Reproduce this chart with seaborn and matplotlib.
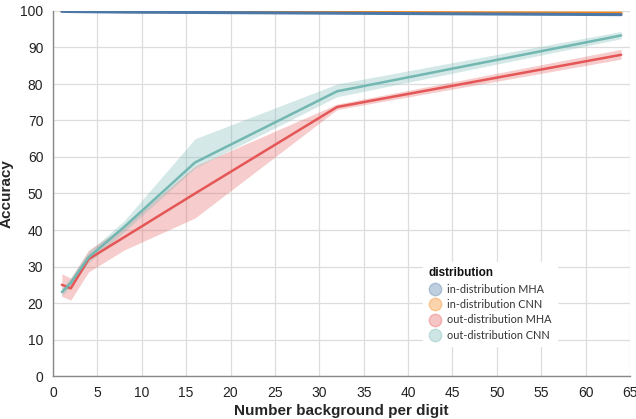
import numpy as np
import pandas as pd
import matplotlib
matplotlib.use("Agg")
import matplotlib.pyplot as plt
import seaborn as sns
from matplotlib.lines import Line2D

# ---- data ----
x_vals = [1, 2, 4, 8, 16, 32, 64]
series_names = ["in-distribution MHA", "in-distribution CNN",
                "out-distribution MHA", "out-distribution CNN"]

in_mha_mean = [99.9, 99.85, 99.8, 99.7, 99.6, 99.4, 99.0]
in_mha_low = [99.8, 99.75, 99.7, 99.6, 99.5, 99.3, 98.9]
in_mha_high = [100.0, 99.95, 99.9, 99.8, 99.7, 99.5, 99.1]

in_cnn_mean = [100.0, 99.95, 99.9, 99.85, 99.8, 99.6, 99.4]
in_cnn_low = [99.95, 99.9, 99.85, 99.8, 99.75, 99.5, 99.3]
in_cnn_high = [100.0, 100.0, 99.95, 99.9, 99.85, 99.7, 99.5]

out_mha_mean = [25.0, 24.0, 32.0, 38.0, 50.0, 73.7, 88.0]
out_mha_low = [21.8, 20.8, 28.5, 34.5, 43.3, 73.0, 86.8]
out_mha_high = [28.0, 26.8, 34.5, 41.0, 57.5, 74.5, 89.5]

out_cnn_mean = [23.0, 25.5, 32.5, 40.8, 58.5, 78.0, 93.3]
out_cnn_low = [22.0, 24.5, 31.0, 39.5, 57.0, 76.5, 92.4]
out_cnn_high = [24.0, 27.0, 34.0, 42.5, 65.0, 80.0, 94.4]

x_ticks = list(range(0, 66, 5))
y_ticks = list(range(0, 101, 10))

colors = ["#4c78a8", "#f58518", "#e45756", "#72b7b2"]

means = [in_mha_mean, in_cnn_mean, out_mha_mean, out_cnn_mean]
lows = [in_mha_low, in_cnn_low, out_mha_low, out_cnn_low]
highs = [in_mha_high, in_cnn_high, out_mha_high, out_cnn_high]

rows = []
for name, m, lo, hi in zip(series_names, means, lows, highs):
    for xv, a, b, c in zip(x_vals, m, lo, hi):
        rows.append({"x": xv, "mean": a, "low": b, "high": c, "distribution": name})
df = pd.DataFrame(rows)

# ---- plot ----
sns.set_style("white")
plt.rcParams["font.family"] = ["Liberation Sans", "DejaVu Sans"]

fig = plt.figure(figsize=(6.36, 4.19), dpi=100)
ax = fig.add_axes([53 / 636, 43 / 419, 577 / 636, 365 / 419])

for name, col in zip(series_names, colors):
    d = df[df["distribution"] == name]
    ax.fill_between(d["x"], d["low"], d["high"], color=col, alpha=0.3,
                    linewidth=0, zorder=2)

draw_order = ["out-distribution MHA", "out-distribution CNN",
              "in-distribution CNN", "in-distribution MHA"]
widths = {"out-distribution MHA": 1.8, "out-distribution CNN": 1.8,
          "in-distribution CNN": 2.2, "in-distribution MHA": 2.2}
for z, name in enumerate(draw_order):
    d = df[df["distribution"] == name]
    col = colors[series_names.index(name)]
    sns.lineplot(data=d, x="x", y="mean", color=col, ax=ax,
                 linewidth=widths[name], legend=False, zorder=3 + z * 0.1,
                 estimator=None, errorbar=None)

ax.set_xlim(0, 65)
ax.set_ylim(0, 100)
ax.set_xticks(x_ticks)
ax.set_yticks(y_ticks)
ax.grid(True, color="#dddddd", linewidth=0.9, zorder=0)
ax.set_axisbelow(True)
for s in ["top", "right"]:
    ax.spines[s].set_visible(False)
for s in ["left", "bottom"]:
    ax.spines[s].set_color("#888888")
    ax.spines[s].set_linewidth(1)
ax.tick_params(axis="both", which="both", length=5, width=1, color="#888888",
               labelsize=10, labelcolor="#222222", pad=2, direction="out")
ax.set_xlabel("Number background per digit", fontsize=11, fontweight="bold",
              labelpad=3)
ax.set_ylabel("Accuracy", fontsize=11, fontweight="bold", labelpad=5)

handles = [Line2D([0], [0], marker="o", linestyle="none", markersize=9,
                  markerfacecolor=c, markeredgecolor=c, alpha=0.35)
           for c in colors]
leg = ax.legend(handles, series_names, title="distribution",
                loc="upper left", bbox_to_anchor=(423 / 636, 1 - 262 / 419),
                bbox_transform=fig.transFigure,
                frameon=True, fontsize=7.8, title_fontsize=8.5,
                handletextpad=0.5, labelspacing=0.4, borderpad=0.5,
                borderaxespad=0, alignment="left", handlelength=1.2)
leg.get_frame().set_facecolor("white")
leg.get_frame().set_edgecolor("white")
leg.get_frame().set_alpha(1)
leg.get_title().set_fontweight("bold")
leg.get_title().set_color("#111111")
for t in leg.get_texts():
    t.set_family(["Lato", "DejaVu Sans"])
    t.set_color("#333333")
leg.set_zorder(5)

fig.savefig("out.png", dpi=100)
